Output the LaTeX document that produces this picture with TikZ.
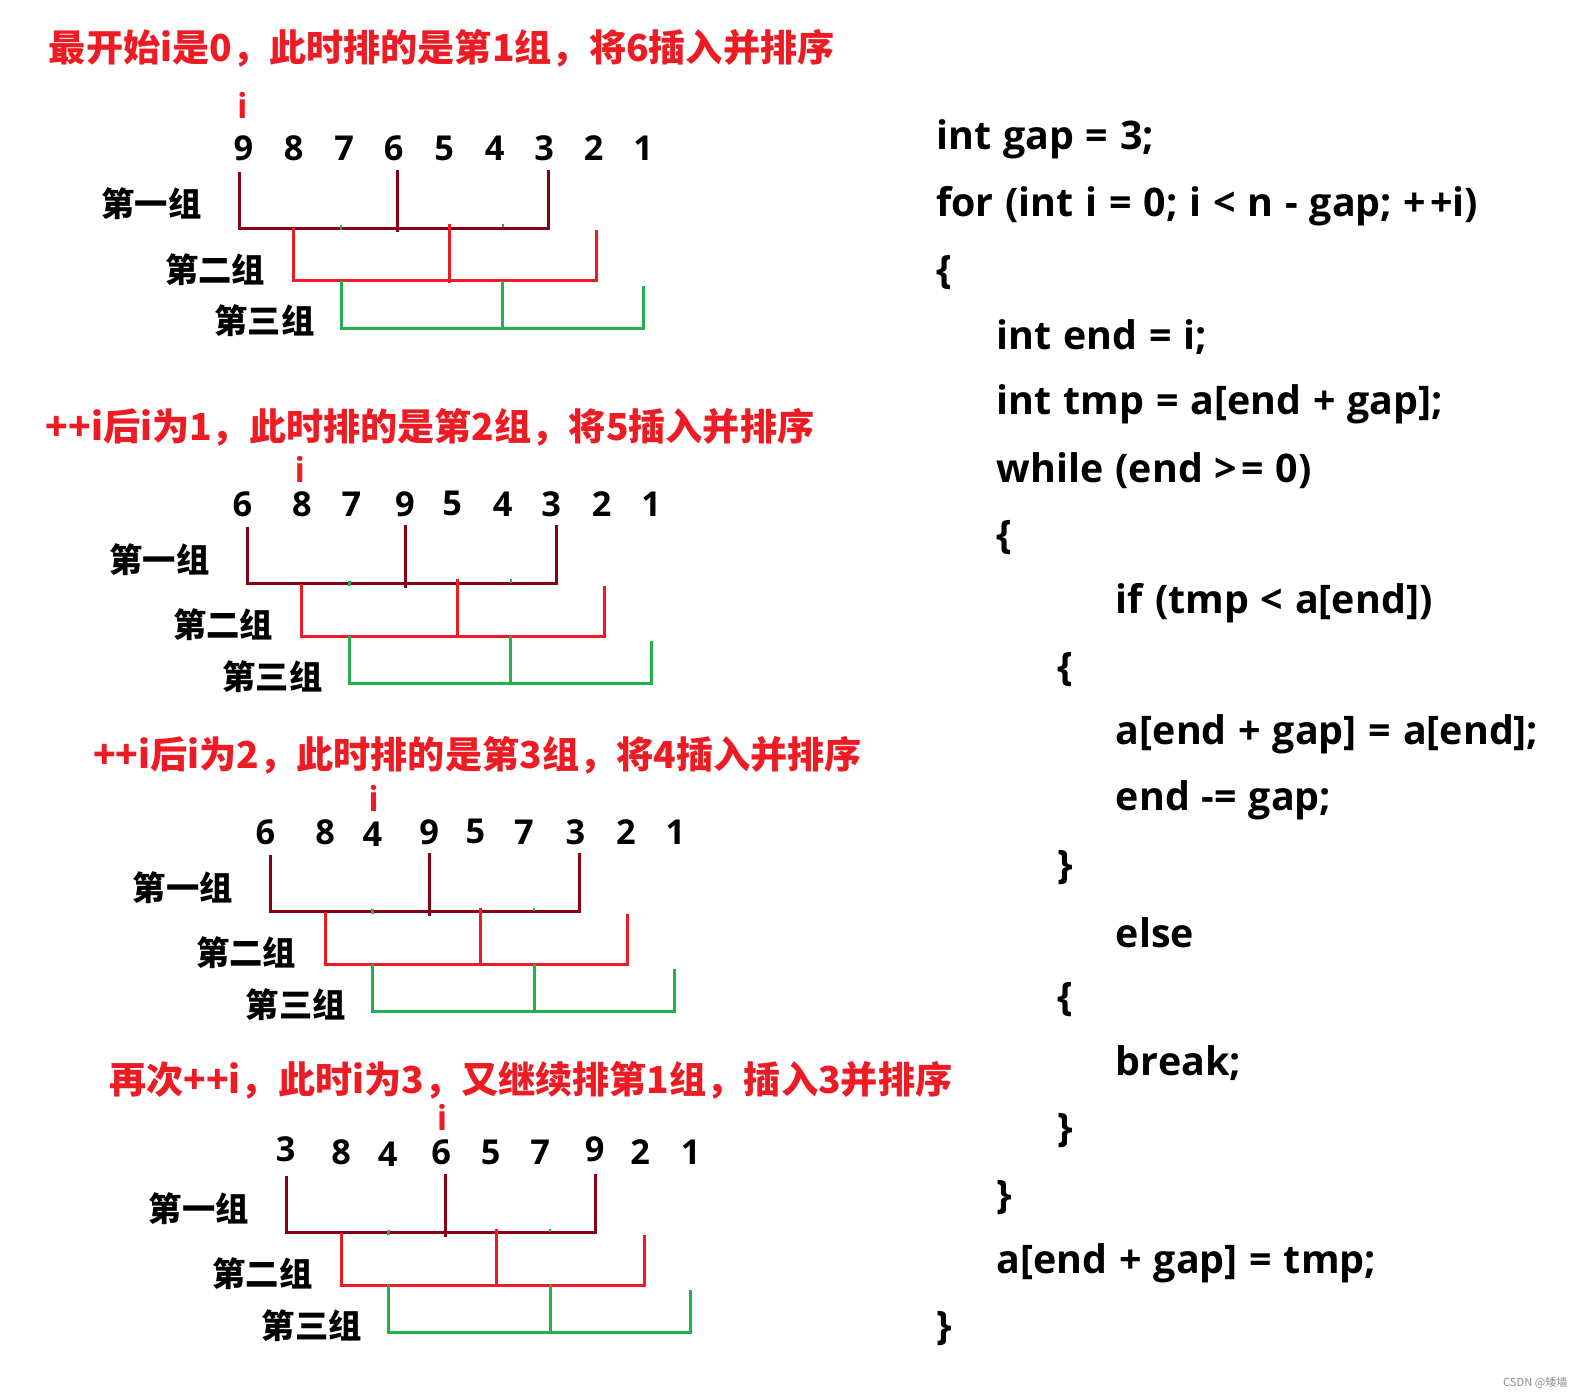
\documentclass[tikz,border=0pt]{standalone}
\usepackage{fontspec}
\setmainfont{Open Sans}
\newfontfamily\cjk{Noto Sans CJK SC}
\usetikzlibrary{positioning}

\definecolor{pred}{HTML}{ED1C24}
\definecolor{pdark}{HTML}{880015}
\definecolor{pgreen}{HTML}{22B14C}
\newcommand\codefont{\bfseries\fontsize{19.5}{20}\selectfont\spaceskip=0.3em\relax}

\begin{document}
\begin{tikzpicture}[x=0.5pt,y=-0.5pt,
    ttl/.style={font=\cjk\bfseries\fontsize{18.4}{20}\selectfont, text=pred, anchor=west, inner sep=0pt},
    num/.style={font=\bfseries\fontsize{17}{20}\selectfont, inner sep=0pt},
    imark/.style={font=\bfseries\fontsize{17}{20}\selectfont, text=pred, inner sep=0pt},
    grp/.style={font=\cjk\bfseries\fontsize{16.5}{20}\selectfont, inner sep=0pt},
    code/.style={font=\codefont, anchor=west, inner sep=0pt, yshift=-1.5pt},
    one/.style={draw=pdark, line width=1.5pt},
    two/.style={draw=pred, line width=1.5pt},
    three/.style={draw=pgreen, line width=1.5pt}]
  \fill[white] (0,0) rectangle (1568,1386);
  \useasboundingbox (0,0) rectangle (1568,1386);
  % ---------- titles ----------
  \node[ttl] (t1) at (48,48)   {最开始i是0，此时排的是第1组，将6插入并排序};
  \node[ttl] (t2) at (45,423)  {++i后i为1，此时排的是第2组，将5插入并排序};
  \node[ttl] (t3) at (92,748)  {++i后i为2，此时排的是第3组，将4插入并排序};
  \node[ttl] (t4) at (108,1070) {再次++i，此时i为3，又继续排第1组，插入3并排序};
  % ---------- i markers ----------
  \node[imark] (i1) at (240,104)  {i};
  \node[imark] (i2) at (297,465)  {i};
  \node[imark] (i3) at (370,791)  {i};
  \node[imark] (i4) at (438,1107) {i};
  % ---------- arrays ----------
  \foreach \x/\v [count=\k] in {241/9,291/8,341/7,390/6,440/5,490/4,539/3,588/2,637/1}
    \node[num] (a\k) at (\x,147) {\v};
  \foreach \x/\v [count=\k] in {240/6,299/8,348/7,401/9,448/5,498/4,546/3,596/2,645/1}
    \node[num] (b\k) at (\x,499) {\v};
  \foreach \x/\y/\v [count=\k] in {263/824/6,322/824/8,369/826/4,425/824/9,471/824/5,519/824/7,570/824/3,620/824/2,669/824/1}
    \node[num] (c\k) at (\x,\y) {\v};
  \foreach \x/\y/\v [count=\k] in {283/1138/3,338/1141/8,384/1143/4,437/1141/6,486/1141/5,535/1141/7,589/1138/9,634/1141/2,684/1141/1}
    \node[num] (d\k) at (\x,\y) {\v};
  % ---------- groups ----------
  \foreach \dx/\dy/\n in {0/0/a,8/352/b,31/677/c,47/995/d}{
    \begin{scope}[shift={(\dx,\dy)}]
      \node[grp] (\n one)   at (150,202) {第一组};
      \node[grp] (\n two)   at (213,267) {第二组};
      \node[grp] (\n three) at (262,318) {第三组};
      \draw[one] (237,170) -- (237,226) -- (543,226) -- (543,168);
      \draw[one] (394,168) -- (394,230);
      \draw[two] (291,226) -- (291,278) -- (591,278) -- (591,228);
      \draw[two] (445,222) -- (445,280);
      \draw[three] (338,278) -- (338,325) -- (637,325) -- (637,283);
      \draw[three] (498,278) -- (498,325);
      \draw[three, line width=1.2pt] (338,223) -- (338,228);
      \draw[three, line width=1.2pt] (498,222) -- (498,225);
    \end{scope}}
  % ---------- code ----------
  \node[code] (c01) at (927,135)  {int gap = 3;};
  \node[code] (c02) at (927,201)  {for (int i = 0; i < n - gap; +\kern2pt+i)};
  \node[code] (c03) at (927,267)  {\{};
  \node[code] (c04) at (987,331)  {int end = i;};
  \node[code] (c05) at (987,397)  {int tmp = a[end + gap];};
  \node[code] (c06) at (987,463)  {while (end >\kern2pt= 0)};
  \node[code] (c07) at (987,529)  {\{};
  \node[code] (c08) at (1105,594) {if (tmp < a[end])};
  \node[code] (c09) at (1047,660) {\{};
  \node[code] (c10) at (1105,724) {a[end + gap] = a[end];};
  \node[code] (c11) at (1105,790) {end -= gap;};
  \node[code] (c12) at (1047,856) {\}};
  \node[code] (c13) at (1105,921) {else};
  \node[code] (c14) at (1047,987) {\{};
  \node[code] (c15) at (1105,1050) {break;};
  \node[code] (c16) at (1047,1117) {\}};
  \node[code] (c17) at (987,1183) {\}};
  \node[code] (c18) at (987,1248) {a[end + gap] = tmp;};
  \node[code] (c19) at (927,1313) {\}};
  % ---------- watermark ----------
  \node[font=\cjk\fontsize{5.5}{6}\selectfont, text=black!45, anchor=east, inner sep=0pt] (wm) at (1553,1370) {CSDN @矮墙};
\end{tikzpicture}
\end{document}
